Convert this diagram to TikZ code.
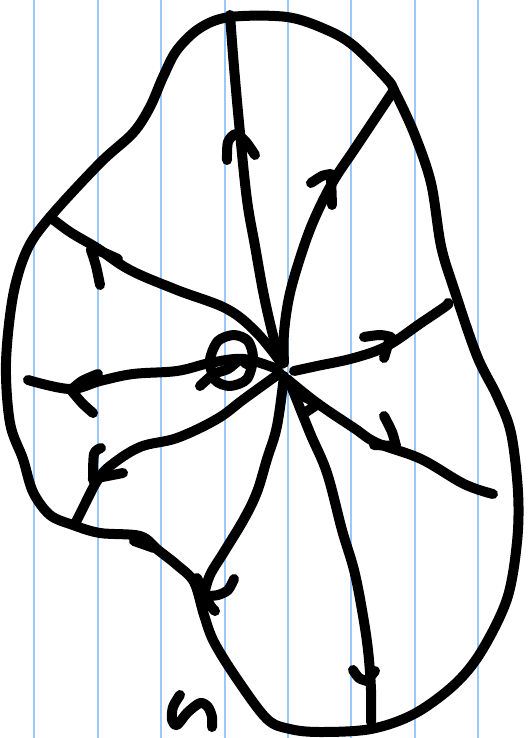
\documentclass[tikz,border=0pt]{standalone}
\definecolor{ruleblue}{RGB}{155,200,250}
\begin{document}
\begin{tikzpicture}[x=1pt,y=-1pt,
  ink/.style={line width=10pt, line cap=round, line join=round},
  paperrule/.style={draw=ruleblue, line width=2.2pt}]
\useasboundingbox (0,0) rectangle (531,738);
\fill[white] (0,0) rectangle (531,738);
\foreach \x in {34,98,161,225,288,351,415,478} \draw[paperrule] (\x,0) -- (\x,738);
\coordinate (C) at (285,368);
% boundary
\draw[ink] plot[smooth cycle, tension=0.55] coordinates {
 (230,17) (287,17) (327,30) (354,46) (387,79) (395,92) (414,133) (431,183)
 (441,246) (454,289) (477,356) (497,396) (511,433) (518,492) (517,542)
 (507,599) (481,652) (454,685) (414,714) (371,729) (320,732) (290,729)
 (267,719) (237,679) (214,642) (204,615) (194,582) (177,565) (158,550)
 (140,536) (100,533) (73,525) (50,515) (33,492) (23,459) (10,423) (6,363)
 (13,296) (27,250) (50,217) (100,163) (133,133) (150,107) (163,77)
 (177,50) (200,28)};
\draw[ink] (134,541) -- (154,548);
% spoke 1 (up)
\draw[ink] plot[smooth, tension=0.6] coordinates {(282,363) (274,339) (264,296) (255,246) (247,200) (240,133) (234,67) (230,15)};
\draw[ink] plot[smooth] coordinates {(227,160) (228,142) (236,134) (246,142) (255,155)};
% spoke 2 (upper right)
\draw[ink] plot[smooth, tension=0.6] coordinates {(284,363) (284,333) (290,293) (304,246) (317,213) (334,180) (354,150) (374,120) (394,90)};
\draw[ink] plot[smooth] coordinates {(311,183) (322,176) (331,174)};
\draw[ink] (331,176) -- (332,205);
% spoke 3 (right)
\draw[ink] plot[smooth, tension=0.6] coordinates {(294,371) (317,366) (354,358) (387,346) (421,323) (446,306) (448,303)};
\draw[ink] plot[smooth] coordinates {(364,337) (380,335) (391,337)};
\draw[ink] (390,338) -- (384,358);
% spoke 4 (lower right)
\draw[ink] plot[smooth, tension=0.6] coordinates {(287,379) (317,403) (354,428) (377,443) (421,459) (464,484) (493,494)};
\draw[ink] plot[smooth] coordinates {(384,416) (392,432) (396,446)};
\draw[ink] (396,446) -- (374,445);
\draw[ink] (299,394) -- (318,404) -- (306,412);
% spoke 5 (down)
\draw[ink] plot[smooth, tension=0.6] coordinates {(290,383) (310,433) (327,473) (342,530) (354,570) (362,610) (368,650) (371,690) (371,722)};
\draw[ink] plot[smooth] coordinates {(353,670) (359,678) (367,681)};
\draw[ink] (375,671) -- (367,681);
% spoke 6 (down left)
\draw[ink] plot[smooth, tension=0.6] coordinates {(284,376) (277,426) (267,459) (257,492) (244,519) (224,552) (210,575) (204,595)};
\draw[ink] plot[smooth] coordinates {(197,578) (204,592) (210,605) (215,611)};
\draw[ink] plot[smooth] coordinates {(234,579) (228,590) (218,595) (207,596)};
% spoke 7 (lower left)
\draw[ink] plot[smooth, tension=0.6] coordinates {(280,373) (244,399) (217,419) (177,438) (140,447) (110,466) (97,481) (82,510) (75,524)};
\draw[ink] plot[smooth] coordinates {(101,448) (94,454) (93,480)};
\draw[ink] (123,473) -- (97,478);
% spoke 8 (left)
\draw[ink] plot[smooth, tension=0.6] coordinates {(277,369) (244,359) (210,363) (177,371) (133,374) (100,381) (70,389) (28,380)};
\draw[ink] plot[smooth] coordinates {(98,374) (82,381) (71,390)};
\draw[ink] plot[smooth] coordinates {(71,390) (82,403) (93,413)};
% spoke 9 (upper left)
\draw[ink] plot[smooth, tension=0.6] coordinates {(282,364) (257,333) (227,309) (177,290) (130,270) (97,248) (70,232) (50,217)};
\draw[ink] plot[smooth] coordinates {(118,259) (102,252) (91,250)};
\draw[ink] plot[smooth] coordinates {(91,250) (96,266) (100,285)};
% theta-like mark
\draw[ink] plot[smooth cycle] coordinates {(234,335) (248,341) (253,358) (247,379) (230,386) (215,380) (210,360) (218,341)};
\draw[ink] plot[smooth] coordinates {(200,386) (214,374) (228,369) (240,360) (246,364)};
% label mark
\draw[ink] plot[smooth] coordinates {(180,695) (173,707) (172,720) (177,725) (187,713) (200,703) (208,707) (212,717) (212,727)};
\end{tikzpicture}
\end{document}
